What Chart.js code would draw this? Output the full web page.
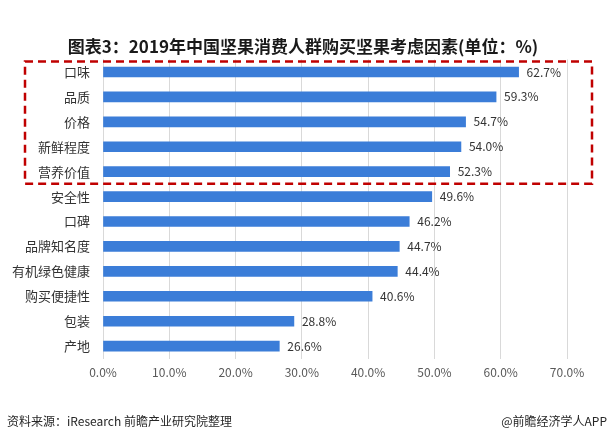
<!DOCTYPE html>
<html><head><meta charset="utf-8">
<script src="https://cdn.jsdelivr.net/npm/chart.js@4.4.1/dist/chart.umd.min.js"></script>
<style>html,body{margin:0;padding:0;background:#fff;}#wrap{width:607px;height:444px;position:relative;}</style>
</head><body>
<div id="wrap"><canvas id="c" width="607" height="444"></canvas></div>
<script>
const categories = ["口味","品质","价格","新鲜程度","营养价值","安全性","口碑","品牌知名度","有机绿色健康","购买便捷性","包装","产地"];
const values = [62.7,59.3,54.7,54.0,52.3,49.6,46.2,44.7,44.4,40.6,28.8,26.6];
const xTicks = [0,10,20,30,40,50,60,70];
const titleText = "图表3：2019年中国坚果消费人群购买坚果考虑因素(单位：%)";
const sourceText = "资料来源：iResearch 前瞻产业研究院整理";
const brandText = "@前瞻经济学人APP";
const highlightCount = 5;

const CJK = '"Noto Sans CJK SC","Noto Sans",sans-serif';

const extras = {
  id: 'extras',
  afterDatasetsDraw(chart) {
    const ctx = chart.ctx;
    const x = chart.scales.x, y = chart.scales.y;
    ctx.save();
    ctx.font = '12px ' + CJK;
    ctx.fillStyle = '#333333';
    ctx.textBaseline = 'middle';
    ctx.textAlign = 'left';
    chart.getDatasetMeta(0).data.forEach((bar, i) => {
      ctx.fillText(values[i].toFixed(1) + '%', bar.x + 8, bar.y);
    });
    const step = y.getPixelForValue(1) - y.getPixelForValue(0);
    const top = y.getPixelForValue(0) - step / 2 + 2;
    const bottom = y.getPixelForValue(highlightCount - 1) + step / 2 - 0.5;
    ctx.strokeStyle = '#C00000';
    ctx.lineWidth = 2.5;
    ctx.setLineDash([8, 5]);
    ctx.strokeRect(25, top, 567, bottom - top);
    ctx.restore();
    ctx.save();
    ctx.fillStyle = '#1a1a1a';
    ctx.font = 'bold 17px ' + CJK;
    ctx.textAlign = 'center';
    ctx.textBaseline = 'middle';
    ctx.fillText(titleText, 303, 47);
    ctx.font = '12px ' + CJK;
    ctx.fillStyle = '#262626';
    ctx.textAlign = 'left';
    ctx.fillText(sourceText, 7, 421);
    ctx.textAlign = 'right';
    ctx.fillText(brandText, 607, 421);
    ctx.restore();
  }
};

new Chart(document.getElementById('c'), {
  type: 'bar',
  data: {
    labels: categories,
    datasets: [{
      data: values,
      backgroundColor: '#3B7DD8',
      barThickness: 10,
      borderWidth: 0
    }]
  },
  options: {
    indexAxis: 'y',
    responsive: false,
    animation: false,
    layout: { padding: { top: 59.5, bottom: 57, left: 0, right: 40 } },
    plugins: { legend: { display: false }, tooltip: { enabled: false } },
    scales: {
      x: {
        min: 0, max: 70,
        afterBuildTicks: s => { s.ticks = xTicks.map(v => ({ value: v })); },
        ticks: {
          callback: v => v.toFixed(1) + '%',
          font: { size: 12, family: CJK },
          color: '#595959',
          padding: 7
        },
        grid: { color: '#D9D9D9', drawTicks: false, lineWidth: 1 },
        border: { display: false }
      },
      y: {
        afterFit: s => { s.width = 103; },
        ticks: {
          font: { size: 13, family: CJK },
          color: '#333333',
          padding: 13
        },
        grid: { display: false, drawTicks: false },
        border: { display: true, color: '#D9D9D9' }
      }
    }
  },
  plugins: [extras]
});
</script>
</body></html>
